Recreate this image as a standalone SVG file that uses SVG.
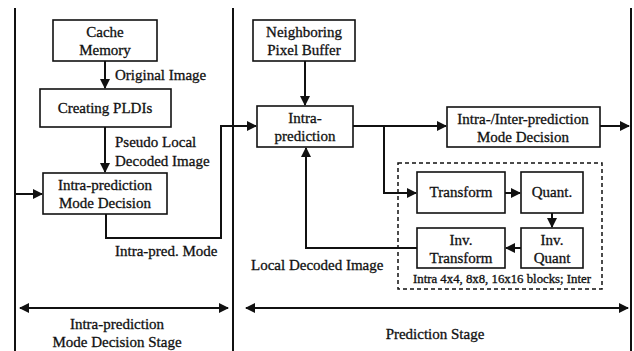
<svg xmlns="http://www.w3.org/2000/svg" width="634" height="351" viewBox="0 0 634 351">
<style>
.box{fill:#fff;stroke:#111;stroke-width:1.6}
.ln{fill:none;stroke:#111;stroke-width:2}
.t{font-family:"Liberation Serif","Times New Roman",serif;font-size:15px;fill:#111;stroke:#111;stroke-width:0.3}
.c{text-anchor:middle}
.s{font-size:11.5px}
</style>
<defs>
<marker id="ah" viewBox="0 0 10 10" refX="9" refY="5" markerWidth="5" markerHeight="5" orient="auto-start-reverse" markerUnits="strokeWidth">
<path d="M0,0 L10,5 L0,10 z" fill="#111"/>
</marker>
</defs>
<rect width="634" height="351" fill="#fff"/>
<g id="stage-lines">
<line x1="15" y1="8" x2="15" y2="351" class="ln" stroke-width="2.5"/>
<line x1="233" y1="8" x2="233" y2="351" class="ln" stroke-width="2.5"/>
<line x1="631" y1="8" x2="631" y2="351" class="ln" stroke-width="2.5"/>
</g>
<g id="connectors">
<line x1="105" y1="61" x2="105" y2="88" class="ln" marker-end="url(#ah)"/>
<line x1="105" y1="127" x2="105" y2="172" class="ln" marker-end="url(#ah)"/>
<line x1="15" y1="194" x2="42" y2="194" class="ln" marker-end="url(#ah)"/>
<polyline points="106,214 106,238 221,238 221,126 256,126" class="ln" marker-end="url(#ah)"/>
<line x1="305" y1="61" x2="305" y2="105" class="ln" marker-end="url(#ah)"/>
<line x1="353" y1="126" x2="446" y2="126" class="ln" marker-end="url(#ah)"/>
<polyline points="384,126 384,193 416,193" class="ln" marker-end="url(#ah)"/>
<line x1="600" y1="126" x2="629" y2="126" class="ln" marker-end="url(#ah)"/>
<line x1="505" y1="193" x2="520" y2="193" class="ln" marker-end="url(#ah)"/>
<line x1="552" y1="213" x2="552" y2="227" class="ln" marker-end="url(#ah)"/>
<line x1="521" y1="248" x2="506" y2="248" class="ln" marker-end="url(#ah)"/>
<polyline points="417,248 306,248 306,148" class="ln" marker-end="url(#ah)"/>
<line x1="20" y1="308" x2="228" y2="308" class="ln" marker-start="url(#ah)" marker-end="url(#ah)"/>
<line x1="246" y1="308" x2="628" y2="308" class="ln" marker-start="url(#ah)" marker-end="url(#ah)"/>
</g>
<g id="dashed-group">
<rect x="398" y="163" width="204" height="126" fill="none" stroke="#111" stroke-width="1.5" stroke-dasharray="4,3"/>
<text x="502" y="283" class="t c s" textLength="178" lengthAdjust="spacingAndGlyphs">Intra 4x4, 8x8, 16x16 blocks; Inter</text>
</g>
<g id="cache">
<rect x="53" y="20" width="104" height="41" class="box"/>
<text x="105" y="37" class="t c">Cache</text>
<text x="105" y="55" class="t c">Memory</text>
</g>
<g id="pldi">
<rect x="40" y="89" width="131" height="38" class="box"/>
<text x="105" y="113" class="t c">Creating PLDIs</text>
</g>
<g id="ipmd">
<rect x="43" y="173" width="124" height="41" class="box"/>
<text x="105" y="190" class="t c">Intra-prediction</text>
<text x="105" y="208" class="t c">Mode Decision</text>
</g>
<g id="npb">
<rect x="253" y="20" width="102" height="41" class="box"/>
<text x="304" y="37" class="t c">Neighboring</text>
<text x="304" y="55" class="t c">Pixel Buffer</text>
</g>
<g id="intrapred">
<rect x="257" y="106" width="96" height="41" class="box"/>
<text x="305" y="123" class="t c">Intra-</text>
<text x="305" y="141" class="t c">prediction</text>
</g>
<g id="iimd">
<rect x="447" y="107" width="153" height="40" class="box"/>
<text x="523" y="124" class="t c">Intra-/Inter-prediction</text>
<text x="523" y="142" class="t c">Mode Decision</text>
</g>
<g id="transform">
<rect x="417" y="172" width="88" height="41" class="box"/>
<text x="461" y="197" class="t c">Transform</text>
</g>
<g id="quant">
<rect x="521" y="172" width="62" height="41" class="box"/>
<text x="552" y="197" class="t c">Quant.</text>
</g>
<g id="invquant">
<rect x="521" y="228" width="62" height="40" class="box"/>
<text x="552" y="245" class="t c">Inv.</text>
<text x="552" y="263" class="t c">Quant</text>
</g>
<g id="invtransform">
<rect x="417" y="228" width="88" height="40" class="box"/>
<text x="461" y="245" class="t c">Inv.</text>
<text x="461" y="263" class="t c">Transform</text>
</g>
<g id="labels">
<text x="115" y="80" class="t">Original Image</text>
<text x="115" y="147" class="t">Pseudo Local</text>
<text x="115" y="166" class="t">Decoded Image</text>
<text x="115" y="256" class="t">Intra-pred. Mode</text>
<text x="251" y="270" class="t">Local Decoded Image</text>
<text x="117" y="329" class="t c">Intra-prediction</text>
<text x="117" y="347" class="t c">Mode Decision Stage</text>
<text x="435" y="339" class="t c">Prediction Stage</text>
</g>
</svg>
